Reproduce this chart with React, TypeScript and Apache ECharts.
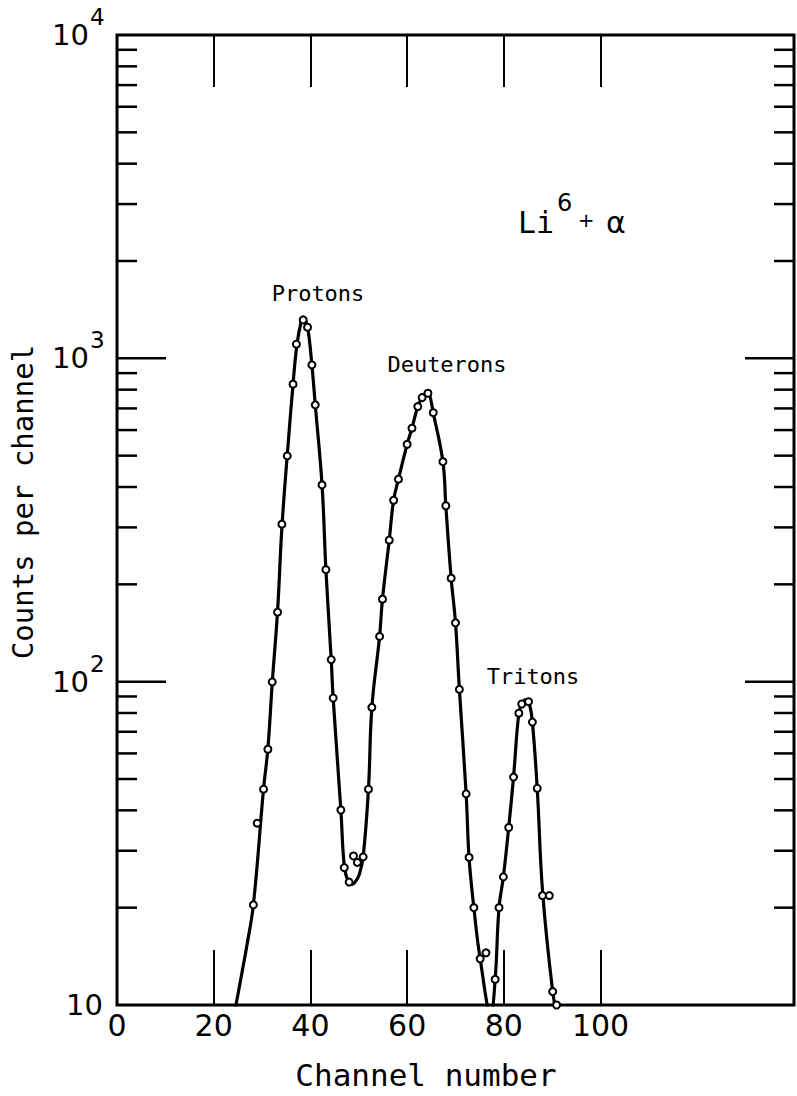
import React, { useEffect, useRef } from "react";
import * as echarts from "echarts";

// Measured data points (open circles): channel number and counts per channel
const markerChannel = [
  28.2, 29.0, 30.3, 31.2, 32.1, 33.2, 34.1, 35.2, 36.4, 37.1, 38.5, 39.4, 40.3, 41.0, 42.4,
  43.2, 44.3, 44.7, 46.3, 47.0, 48.0, 48.9, 49.7, 50.9, 52.0, 52.7, 54.3, 54.9, 56.3, 57.2,
  58.2, 60.0, 61.0, 62.2, 63.1, 64.3, 65.4, 67.4, 68.0, 69.1, 70.0, 70.8, 72.2, 72.8, 73.8,
  75.1, 76.3, 78.2, 79.0, 79.9, 81.0, 82.0, 83.1, 83.7, 85.1, 85.9, 86.9, 88.0, 89.4, 90.1, 90.9,
];
const markerCounts = [
  20.4, 36.5, 46.5, 61.8, 99.8, 164, 307, 499, 832, 1106, 1315, 1248, 954, 718, 406,
  222, 117, 89, 40.1, 26.6, 24.0, 28.9, 27.6, 28.7, 46.5, 83.3, 138, 180, 274, 364,
  423, 542, 608, 709, 756, 780, 679, 479, 350, 209, 152, 94.7, 45.0, 28.6, 20.0,
  13.9, 14.5, 12.0, 20.0, 24.9, 35.4, 50.7, 79.9, 85.3, 86.7, 75.0, 46.8, 21.8, 21.8, 11.0, 10.0,
];

// Hand-drawn fitted curve
const curveChannel = [
  24.0, 24.6, 25.8, 26.8, 28.2, 30.3, 31.2, 32.1, 33.2, 34.1, 35.2, 36.4, 37.2, 38.1, 38.6,
  39.4, 40.3, 41.0, 42.4, 43.2, 44.3, 44.7, 46.3, 47.0, 47.9, 48.6, 49.4, 50.1, 50.9, 52.0,
  52.7, 54.3, 54.9, 56.3, 57.2, 58.2, 60.0, 61.0, 62.2, 63.1, 64.1, 64.6, 65.4, 67.4, 68.0,
  69.1, 70.0, 70.8, 72.2, 72.8, 73.8, 75.1, 77.3, 78.2, 79.0, 79.9, 81.0, 82.0, 83.1, 83.8,
  84.6, 85.3, 85.9, 86.9, 88.0, 90.1, 91.2,
];
const curveCounts = [
  9.0, 10.0, 12.5, 15.1, 20.4, 46.5, 62, 99, 165, 300, 500, 830, 1100, 1300, 1330,
  1250, 954, 718, 406, 222, 117, 89, 40, 27, 23.8, 23.6, 24.2, 25.3, 28.7, 46.5,
  83, 138, 180, 274, 364, 423, 542, 608, 709, 756, 785, 775, 679, 479, 350,
  209, 152, 94.7, 45, 28.6, 20.0, 13.9, 9.4, 12.0, 20.0, 24.9, 35.4, 50.7, 79.9, 86,
  88, 85, 75, 46.8, 22.5, 11.0, 9.0,
];

// Axis ticks and labels
const xLabelValues = [0, 20, 40, 60, 80, 100];
const xTickValues = [20, 40, 60, 80, 100];
const yLabelValues = [10, 100, 1000, 10000];
const yMajorTicks = [100, 1000];
const yMinorTicks = [20, 30, 40, 50, 60, 70, 80, 90, 200, 300, 400, 500, 600, 700, 800, 900,
  2000, 3000, 4000, 5000, 6000, 7000, 8000, 9000];

const X_MIN = 0;
const X_MAX = 140;
const Y_MIN = 10;
const Y_MAX = 10000;

const WORD_FONT = "'DejaVu Sans Mono', monospace";
const NUM_FONT = "'DejaVu Sans', sans-serif";

function txt(text: string, x: number, y: number, fontSize: number, family: string, extra: any = {}) {
  const align = extra.align || "center";
  const { align: _a, ...rest } = extra;
  return {
    type: "text",
    x,
    y,
    silent: true,
    ...rest,
    style: {
      text,
      fill: "#000",
      fontSize,
      fontFamily: family,
      align,
      textAlign: align,
      verticalAlign: "middle",
      textVerticalAlign: "middle",
    },
  };
}

export default function App() {
  const ref = useRef<HTMLDivElement>(null);

  useEffect(() => {
    if (!ref.current) return;
    const chart = echarts.init(ref.current, undefined, { renderer: "svg" });

    const tickData = [
      ...yMajorTicks.map((v) => [X_MIN, v, 49]),
      ...yMinorTicks.map((v) => [X_MIN, v, 20]),
    ];

    const option: any = {
      animation: false,
      backgroundColor: "#fff",
      grid: {
        left: 117,
        top: 35,
        width: 677,
        height: 970,
        show: true,
        borderColor: "#000",
        borderWidth: 3,
        backgroundColor: "transparent",
      },
      xAxis: [
        {
          type: "value",
          position: "bottom",
          min: X_MIN,
          max: X_MAX,
          interval: 20,
          axisLine: { show: false },
          splitLine: { show: false },
          axisTick: {
            show: true,
            inside: true,
            length: 55,
            customValues: xTickValues,
            lineStyle: { color: "#000", width: 2 },
          },
          axisLabel: {
            customValues: xLabelValues,
            showMinLabel: true,
            color: "#000",
            fontSize: 30,
            fontFamily: NUM_FONT,
            margin: 5,
          },
        },
        {
          type: "value",
          position: "top",
          min: X_MIN,
          max: X_MAX,
          interval: 20,
          axisLine: { show: false },
          splitLine: { show: false },
          axisTick: {
            show: true,
            inside: true,
            length: 52,
            customValues: xTickValues,
            lineStyle: { color: "#000", width: 2 },
          },
          axisLabel: { show: false },
        },
      ],
      yAxis: [
        {
          type: "log",
          logBase: 10,
          min: Y_MIN,
          max: Y_MAX,
          axisLine: { show: false },
          axisTick: { show: false },
          minorTick: { show: false },
          splitLine: { show: false },
          axisLabel: { show: false },
        },
      ],
      series: [
        {
          type: "custom",
          xAxisIndex: 0,
          yAxisIndex: 0,
          silent: true,
          z: 5,
          encode: { x: 0, y: 1 },
          data: tickData,
          renderItem: (params: any, api: any) => {
            const v = api.value(1);
            const len = api.value(2);
            const pL = api.coord([X_MIN, v]);
            const pR = api.coord([X_MAX, v]);
            return {
              type: "group",
              children: [
                { type: "line", shape: { x1: pL[0], y1: pL[1], x2: pL[0] + len, y2: pL[1] }, style: { stroke: "#000", lineWidth: 2.5 } },
                { type: "line", shape: { x1: pR[0] - len, y1: pR[1], x2: pR[0], y2: pR[1] }, style: { stroke: "#000", lineWidth: 2.5 } },
              ],
            };
          },
        },
        {
          type: "line",
          name: "fit",
          data: curveChannel.map((c, i) => [c, curveCounts[i]]),
          smooth: 0.4,
          symbol: "none",
          clip: true,
          lineStyle: { color: "#000", width: 3.2 },
          z: 3,
        },
        {
          type: "scatter",
          name: "counts",
          data: markerChannel.map((c, i) => [c, markerCounts[i]]),
          symbol: "circle",
          symbolSize: 7,
          itemStyle: { color: "#fff", borderColor: "#000", borderWidth: 2, opacity: 1 },
          z: 4,
        },
      ],
    };

    chart.setOption(option);

    // y-axis labels in "10^n" form, placed through the log axis scale
    const axisX = chart.convertToPixel({ xAxisIndex: 0 }, X_MIN) as number;
    const yLabelElems: any[] = [];
    yLabelValues.forEach((v) => {
      const py = chart.convertToPixel({ yAxisIndex: 0 }, v) as number;
      const exp = Math.round(Math.log10(v));
      if (exp === 1) {
        yLabelElems.push(txt("10", axisX - 14, py, 29, NUM_FONT, { align: "right" }));
      } else {
        yLabelElems.push(txt("10", axisX - 28, py, 29, NUM_FONT, { align: "right" }));
        yLabelElems.push(txt(String(exp), axisX - 27, py - 18, 23, NUM_FONT, { align: "left" }));
      }
    });

    chart.setOption({
      graphic: [
        txt("Protons", 318, 293, 22, WORD_FONT),
        txt("Deuterons", 447, 364, 22, WORD_FONT),
        txt("Tritons", 533, 676, 22, WORD_FONT),
        txt("Channel number", 426, 1075, 31, WORD_FONT),
        txt("Counts per channel", 23, 502, 29, WORD_FONT, { rotation: Math.PI / 2 }),
        txt("Li", 518, 222, 30, WORD_FONT, { align: "left" }),
        txt("6", 557, 203, 24, NUM_FONT, { align: "left" }),
        txt("+", 586, 220, 20, NUM_FONT),
        txt("α", 616, 222, 30, NUM_FONT),
        ...yLabelElems,
      ],
    });

    return () => chart.dispose();
  }, []);

  return (
    <div
      ref={ref}
      style={{ position: "fixed", left: 0, top: 0, width: 797, height: 1096, background: "#fff" }}
    />
  );
}
